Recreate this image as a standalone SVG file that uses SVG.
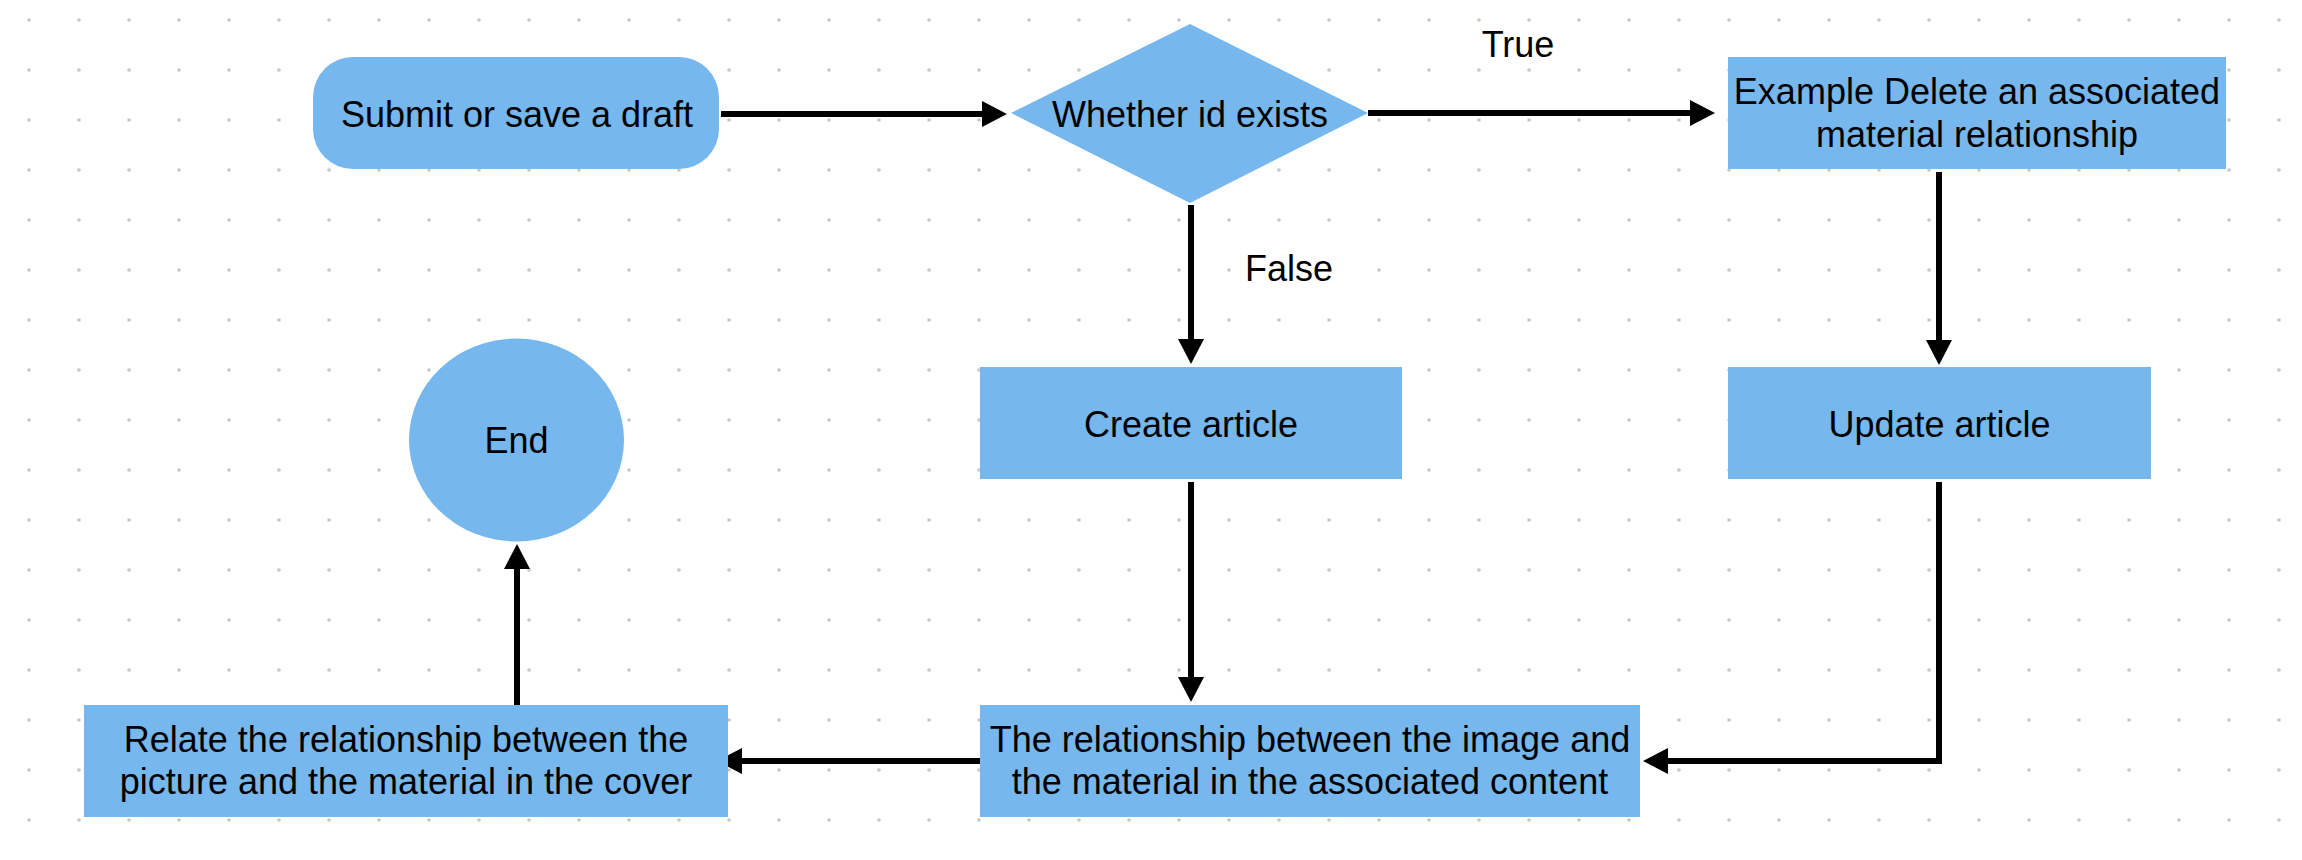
<svg xmlns="http://www.w3.org/2000/svg" width="2302" height="860" viewBox="0 0 2302 860">
  <style>
    .shape { fill: #76b7ee; }
    .label { font-family: "Liberation Sans", Arial, sans-serif; font-size: 36px; fill: #000000; text-anchor: middle; }
    .conn { fill: none; stroke: #000000; stroke-width: 6; stroke-linejoin: miter; }
  </style>
  <defs>
    <pattern id="dots" x="4" y="-5" width="50" height="50" patternUnits="userSpaceOnUse">
      <circle cx="25" cy="25" r="1.8" fill="#c6c6c6"/>
    </pattern>
    <marker id="arrow" markerUnits="userSpaceOnUse" markerWidth="26" markerHeight="26" viewBox="0 0 26 26" refX="5" refY="13" orient="auto">
      <path d="M0,0 L25,13 L0,26 Z" fill="#000000"/>
    </marker>
  </defs>

  <rect width="2302" height="860" fill="#ffffff"/>
  <rect width="2302" height="860" fill="url(#dots)"/>

  <g id="connectors">
    <line class="conn" x1="721" y1="114" x2="987" y2="114" marker-end="url(#arrow)"/>
    <line class="conn" x1="1368" y1="113" x2="1695" y2="113" marker-end="url(#arrow)"/>
    <line class="conn" x1="1191" y1="205" x2="1191" y2="344" marker-end="url(#arrow)"/>
    <line class="conn" x1="1939" y1="172" x2="1939" y2="345" marker-end="url(#arrow)"/>
    <line class="conn" x1="1191" y1="482" x2="1191" y2="682" marker-end="url(#arrow)"/>
    <polyline class="conn" points="1939,482 1939,761 1663,761" marker-end="url(#arrow)"/>
    <line class="conn" x1="980" y1="761" x2="737" y2="761" marker-end="url(#arrow)"/>
    <line class="conn" x1="517" y1="705" x2="517" y2="564" marker-end="url(#arrow)"/>
    <text class="label" x="1518" y="57">True</text>
    <text class="label" x="1289" y="281">False</text>
  </g>

  <g id="node-submit">
    <rect class="shape" x="313" y="57" width="406" height="112" rx="40" ry="40"/>
    <text class="label" x="517" y="127">Submit or save a draft</text>
  </g>

  <g id="node-decision">
    <polygon class="shape" points="1190,24 1368,113 1190,203 1011,113"/>
    <text class="label" x="1190" y="127">Whether id exists</text>
  </g>

  <g id="node-delete">
    <rect class="shape" x="1728" y="57" width="498" height="112"/>
    <text class="label" x="1977" y="104">Example Delete an associated</text>
    <text class="label" x="1977" y="147">material relationship</text>
  </g>

  <g id="node-create">
    <rect class="shape" x="980" y="367" width="422" height="112"/>
    <text class="label" x="1191" y="437">Create article</text>
  </g>

  <g id="node-update">
    <rect class="shape" x="1728" y="367" width="423" height="112"/>
    <text class="label" x="1939.5" y="437">Update article</text>
  </g>

  <g id="node-relationship">
    <rect class="shape" x="980" y="705" width="660" height="112"/>
    <text class="label" x="1310" y="752">The relationship between the image and</text>
    <text class="label" x="1310" y="794">the material in the associated content</text>
  </g>

  <g id="node-cover">
    <rect class="shape" x="84" y="705" width="644" height="112"/>
    <text class="label" x="406" y="752">Relate the relationship between the</text>
    <text class="label" x="406" y="794">picture and the material in the cover</text>
  </g>

  <g id="node-end">
    <ellipse class="shape" cx="516.5" cy="440" rx="107.5" ry="101.5"/>
    <text class="label" x="516.5" y="453">End</text>
  </g>
</svg>
